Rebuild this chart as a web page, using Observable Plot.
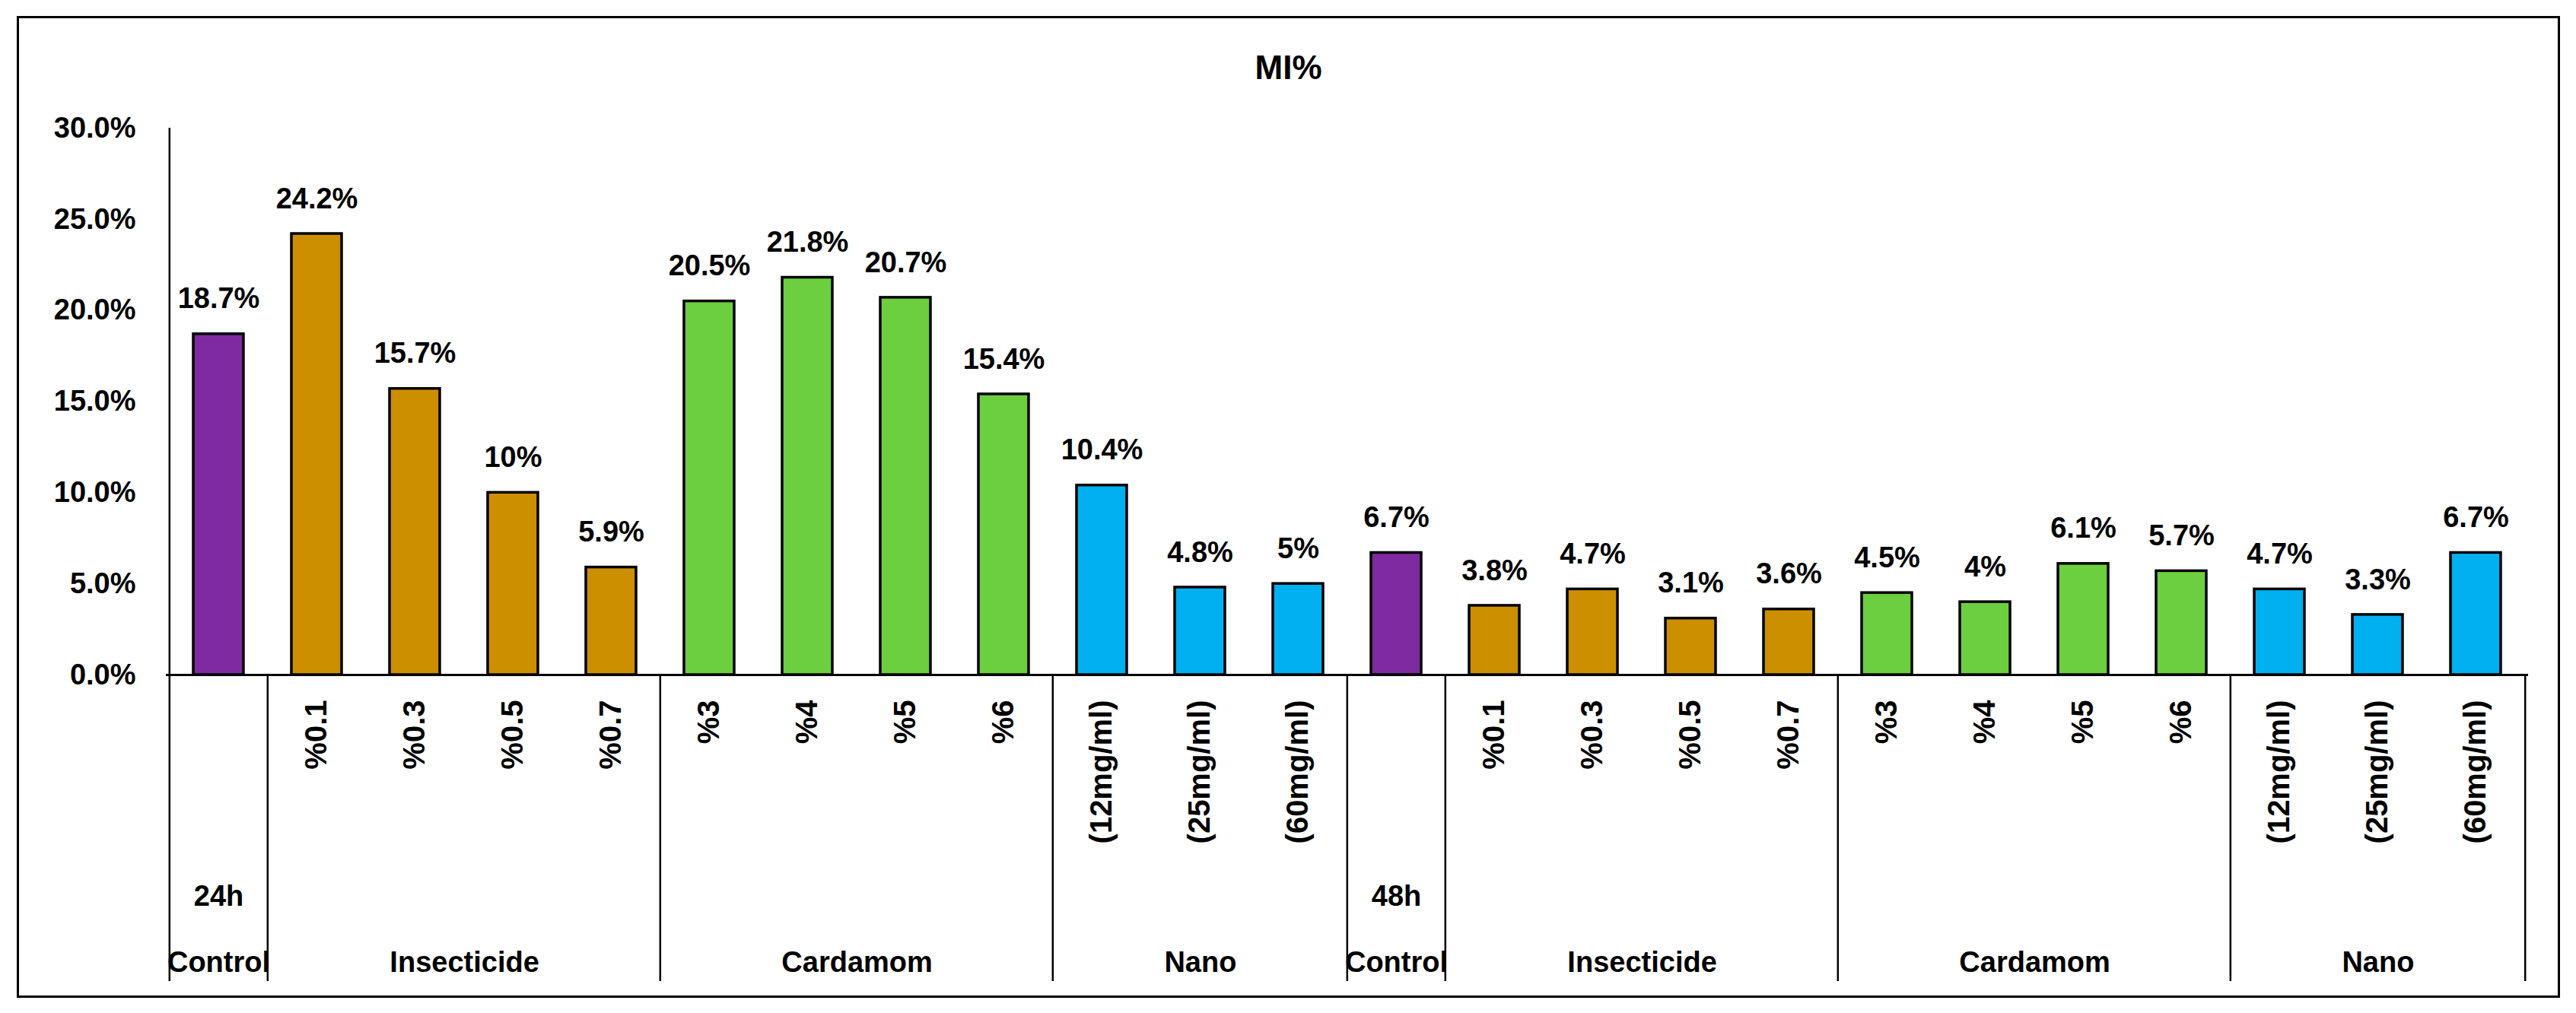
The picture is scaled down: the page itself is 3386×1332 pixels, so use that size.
<!DOCTYPE html>
<html><head><meta charset="utf-8">
<script src="https://cdn.jsdelivr.net/npm/d3@7"></script>
<script src="https://cdn.jsdelivr.net/npm/@observablehq/plot@0.6"></script>
<style>
html,body{margin:0;padding:0;background:#fff;}
#wrap{position:relative;width:3386px;height:1332px;overflow:hidden;}
#border{position:absolute;left:22.25px;top:21.25px;width:3342.5px;height:1290.5px;border:3.5px solid #000;box-sizing:border-box;pointer-events:none;}
#title{position:absolute;left:24px;width:3339px;top:64px;line-height:44px;text-align:center;font:bold 44px "Liberation Sans",Arial,sans-serif;color:#000;}
</style></head><body>
<div id="wrap"><div id="chart"></div><div id="border"></div><div id="title">MI%</div></div>
<script>
// ---- data ----
const groupNames = ["Control","Insecticide","Cardamom","Nano","Control","Insecticide","Cardamom","Nano"];
const groupTimes = ["24h","","","","48h","","",""];
const groupSizes = [1,4,4,3,1,4,4,3];
const subcategories = ["", "%0.1","%0.3","%0.5","%0.7", "%3","%4","%5","%6", "(12mg/ml)","(25mg/ml)","(60mg/ml)",
                       "", "%0.1","%0.3","%0.5","%0.7", "%3","%4","%5","%6", "(12mg/ml)","(25mg/ml)","(60mg/ml)"];
const values = [18.7, 24.2,15.7,10,5.9, 20.5,21.8,20.7,15.4, 10.4,4.8,5,
                6.7, 3.8,4.7,3.1,3.6, 4.5,4,6.1,5.7, 4.7,3.3,6.7];
const yTicks = [0,5,10,15,20,25,30];
const yTickLabels = ["0.0%","5.0%","10.0%","15.0%","20.0%","25.0%","30.0%"];
const colorDomain = ["Control","Insecticide","Cardamom","Nano"];
const colorRange = ["#7F2AA0","#CC8F00","#6CCF3F","#00B0F0"];

// ---- derived tables ----
const ids = subcategories.map((_, i) => "b" + i);
const groupOfBar = [];
groupSizes.forEach((n, g) => { for (let k = 0; k < n; k++) groupOfBar.push(g); });
const bars = values.map((v, i) => ({id: ids[i], value: v, sub: subcategories[i], group: groupNames[groupOfBar[i]], label: v + "%"}));
let start = 0;
const groups = groupSizes.map((n, g) => { const o = {first: ids[start], size: n, name: groupNames[g], time: groupTimes[g]}; start += n; return o; });

// ---- layout ----
const W = 3386, H = 1332;
const mL = 218, mR = 63, mT = 168, mB = 445;
const step = (W - mL - mR) / ids.length;
const pxPerUnit = (H - mB - mT) / 30;
const below = px => -px / pxPerUnit;      // pixel offset below the axis -> y units
const dividerDepth = 403;

const boundaries = groups.map((g, i) => ({id: g.first, dx: -step/2, first: i === 0}));
boundaries.push({id: ids[ids.length - 1], dx: step/2, first: false});
const ruleData = boundaries.map(b => ({id: b.id, dx: b.dx, y1: b.first ? 30 : 0, y2: below(dividerDepth)}));

const font = "'Liberation Sans', Arial, sans-serif";
const marks = [
  Plot.barY(bars, {x: "id", y: "value", fill: "group", stroke: "#000", strokeWidth: 3.5}),
  Plot.ruleY([0], {stroke: "#000", strokeWidth: 3}),
  ...ruleData.map(r => Plot.ruleX([r], {x: "id", y1: "y1", y2: "y2", dx: r.dx, stroke: "#000", strokeWidth: 2.5})),
  Plot.text(bars, {x: "id", y: "value", text: "label", dy: -46, fontSize: 38, fontWeight: "bold", fill: "#000"}),
  Plot.text(bars, {x: "id", y: () => 0, text: "sub", rotate: -90, textAnchor: "end", dy: 33, fontSize: 40, fontWeight: "bold", fill: "#000"}),
  Plot.text(groups.filter(g => g.time), {x: "first", y: () => 0, text: "time", dy: 291, fontSize: 38, fontWeight: "bold", fill: "#000"}),
  ...groups.map(g => Plot.text([g], {x: "first", y: () => 0, text: "name", dx: (g.size - 1) * step / 2, dy: 378, fontSize: 38, fontWeight: "bold", fill: "#000"})),
  Plot.axisY({ticks: yTicks, tickFormat: d => yTickLabels[yTicks.indexOf(d)], tickSize: 0, tickPadding: 40, fontSize: 38, fontWeight: "bold", label: null})
];

const chart = Plot.plot({
  width: W, height: H,
  marginLeft: mL, marginRight: mR, marginTop: mT, marginBottom: mB,
  x: {type: "band", domain: ids, paddingInner: 0.49, paddingOuter: 0.245, axis: null},
  y: {domain: [0, 30], axis: null},
  color: {domain: colorDomain, range: colorRange},
  style: {fontFamily: font, fontSize: "38px", background: "transparent", overflow: "visible", color: "#000"},
  marks
});
document.getElementById("chart").appendChild(chart);
</script>
</body></html>
